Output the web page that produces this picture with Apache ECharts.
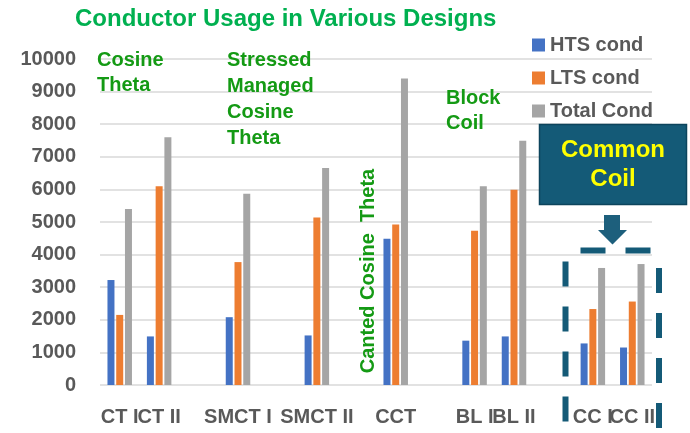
<!DOCTYPE html>
<html>
<head>
<meta charset="utf-8">
<title>Conductor Usage in Various Designs</title>
<script src="https://cdn.jsdelivr.net/npm/echarts@6/dist/echarts.min.js"></script>
<style>
  html, body { margin: 0; padding: 0; background: #ffffff; }
  #chart { width: 690px; height: 433px; }
</style>
</head>
<body>
<div id="chart"></div>
<script>
// Design variants (blank entries leave spacing between design families)
const categories = ['CT I', 'CT II', '', 'SMCT I', '', 'SMCT II', '', 'CCT', '', 'BL I', 'BL II', '', 'CC I', 'CC II'];

// Conductor amounts per design
const htsCond   = [3220, 1490, null, 2080, null, 1520, null, 4490, null, 1360, 1490, null, 1275, 1150];
const ltsCond   = [2150, 6100, null, 3770, null, 5140, null, 4920, null, 4730, 5990, null, 2330, 2560];
const totalCond = [5400, 7600, null, 5870, null, 6660, null, 9400, null, 6100, 7490, null, 3590, 3710];

const seriesNames = ['HTS cond', 'LTS cond', 'Total Cond'];
const yTicks = { min: 0, max: 10000, interval: 1000 };

const GREEN = '#149a14';
const TEAL = '#145a77';
const LABEL_FONT = 'Liberation Sans, Arial, sans-serif';

const chart = echarts.init(document.getElementById('chart'), null, { renderer: 'canvas' });

function barSeries(name, data, color) {
  return {
    name: name,
    type: 'bar',
    data: data,
    barWidth: 7,
    barGap: '25%',
    itemStyle: { color: color }
  };
}

const option = {
  animation: false,
  backgroundColor: '#ffffff',
  textStyle: { fontFamily: LABEL_FONT },
  title: {
    text: 'Conductor Usage in Various Designs',
    left: 70,
    top: 2,
    textStyle: { color: '#00B050', fontSize: 24, fontWeight: 'bold', fontFamily: LABEL_FONT }
  },
  legend: {
    orient: 'vertical',
    left: 527,
    top: 30,
    itemWidth: 13,
    itemHeight: 13,
    itemGap: 13,
    icon: 'rect',
    data: seriesNames,
    textStyle: { color: '#595959', fontSize: 20, fontWeight: 'bold', fontFamily: LABEL_FONT }
  },
  grid: { left: 100, right: 38, top: 59, bottom: 48, containLabel: false },
  xAxis: {
    type: 'category',
    data: categories,
    axisLine: { show: false },
    axisTick: { show: false },
    axisLabel: {
      interval: 0,
      margin: 22,
      color: '#595959',
      fontSize: 20,
      fontWeight: 'bold',
      fontFamily: LABEL_FONT
    }
  },
  yAxis: {
    type: 'value',
    min: yTicks.min,
    max: yTicks.max,
    interval: yTicks.interval,
    axisLine: { show: false },
    axisTick: { show: false },
    axisLabel: {
      margin: 24,
      color: '#595959',
      fontSize: 20,
      fontWeight: 'bold',
      fontFamily: LABEL_FONT,
      formatter: function (v) { return String(v); }
    },
    splitLine: { lineStyle: { color: '#d9d9d9', width: 1.5 } }
  },
  series: [
    barSeries(seriesNames[0], htsCond, '#4472C4'),
    barSeries(seriesNames[1], ltsCond, '#ED7D31'),
    barSeries(seriesNames[2], totalCond, '#A5A5A5')
  ],
  graphic: [
    // design family names
    {
      type: 'text', left: 97, top: 48, z: 10,
      style: { text: 'Cosine\nTheta', fill: GREEN, font: 'bold 20px ' + LABEL_FONT, lineHeight: 25 }
    },
    {
      type: 'text', left: 227, top: 47, z: 10,
      style: { text: 'Stressed\nManaged\nCosine\nTheta', fill: GREEN, font: 'bold 20px ' + LABEL_FONT, lineHeight: 26 }
    },
    {
      type: 'text', x: 368, y: 271, rotation: Math.PI / 2, z: 10,
      style: { text: 'Canted Cosine  Theta', fill: GREEN, font: 'bold 20px ' + LABEL_FONT, align: 'center', verticalAlign: 'middle' }
    },
    {
      type: 'text', left: 446, top: 86, z: 10,
      style: { text: 'Block\nCoil', fill: GREEN, font: 'bold 20px ' + LABEL_FONT, lineHeight: 25 }
    },
    // callout box for the common coil group
    {
      type: 'rect', z: 20,
      shape: { x: 539.5, y: 124.5, width: 147, height: 80 },
      style: { fill: TEAL, stroke: '#0c445c', lineWidth: 1.5 }
    },
    {
      type: 'text', x: 613, y: 165, z: 21,
      style: { text: 'Common\nCoil', fill: '#ffff00', font: 'bold 24px ' + LABEL_FONT, lineHeight: 29, align: 'center', verticalAlign: 'middle' }
    },
    // pointer arrow
    {
      type: 'polygon', z: 20,
      shape: { points: [[604, 215], [620, 215], [620, 230], [627, 230], [612.5, 244.5], [598, 230], [604, 230]] },
      style: { fill: '#1d5f7c' }
    },
    // dashed bracket around the common coil bars
    {
      type: 'line', z: 20,
      shape: { x1: 565.5, y1: 250.5, x2: 659, y2: 250.5 },
      style: { stroke: TEAL, lineWidth: 6, lineDash: [25, 20], lineDashOffset: 30 }
    },
    {
      type: 'line', z: 20,
      shape: { x1: 565.5, y1: 250.5, x2: 565.5, y2: 440 },
      style: { stroke: TEAL, lineWidth: 6, lineDash: [25, 20], lineDashOffset: 34 }
    },
    {
      type: 'line', z: 20,
      shape: { x1: 659, y1: 250.5, x2: 659, y2: 440 },
      style: { stroke: TEAL, lineWidth: 6, lineDash: [25, 20], lineDashOffset: 27.5 }
    }
  ]
};

chart.setOption(option);
</script>
</body>
</html>
